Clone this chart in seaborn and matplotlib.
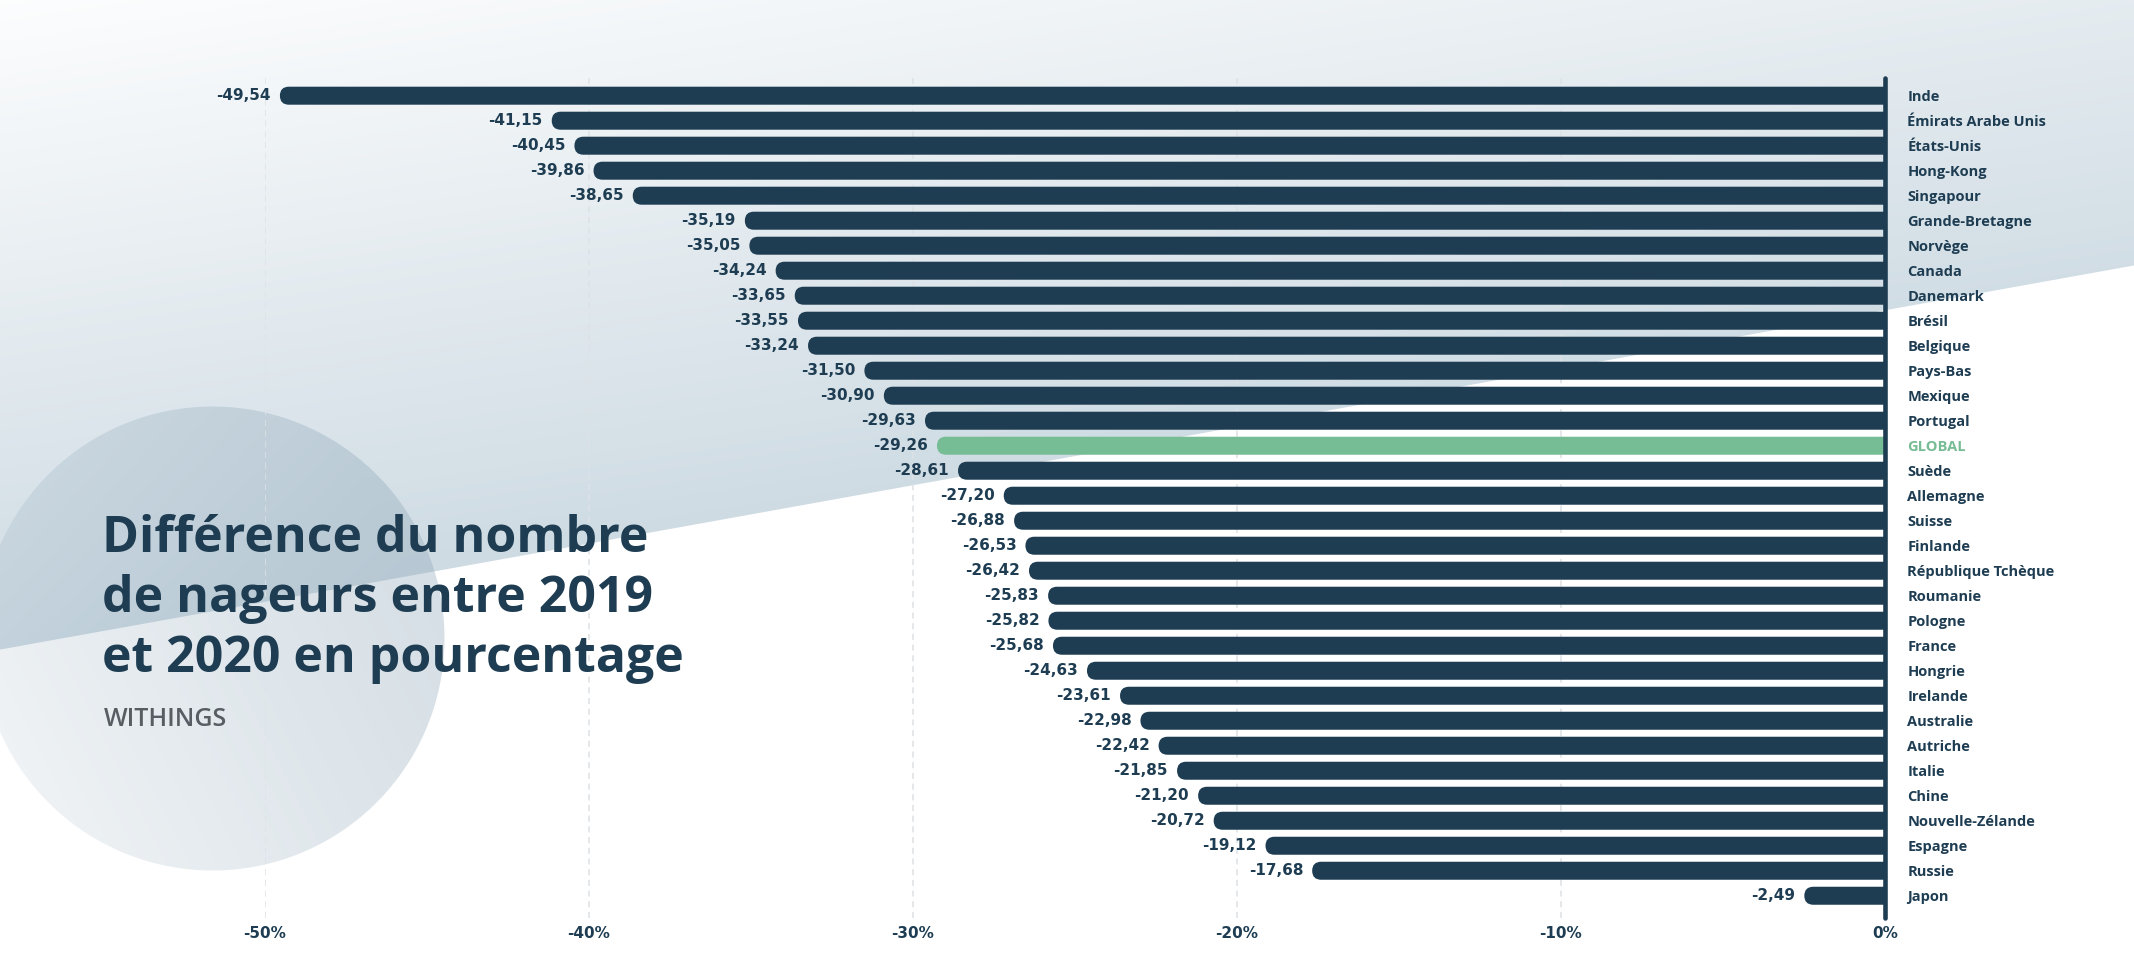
import matplotlib
matplotlib.use('Agg')  # no display
import matplotlib.pyplot as plt
from matplotlib.patches import FancyBboxPatch
import seaborn as sns
import numpy as np
import pandas as pd

# Données (variation du nombre de nageurs 2019 -> 2020, en %)
pays = ["Inde", "Émirats Arabe Unis", "États-Unis", "Hong-Kong", "Singapour",
        "Grande-Bretagne", "Norvège", "Canada", "Danemark", "Brésil", "Belgique",
        "Pays-Bas", "Mexique", "Portugal", "GLOBAL", "Suède", "Allemagne", "Suisse",
        "Finlande", "République Tchèque", "Roumanie", "Pologne", "France", "Hongrie",
        "Irelande", "Australie", "Autriche", "Italie", "Chine", "Nouvelle-Zélande",
        "Espagne", "Russie", "Japon"]
variation = [-49.54, -41.15, -40.45, -39.86, -38.65, -35.19, -35.05, -34.24, -33.65,
             -33.55, -33.24, -31.50, -30.90, -29.63, -29.26, -28.61, -27.20, -26.88,
             -26.53, -26.42, -25.83, -25.82, -25.68, -24.63, -23.61, -22.98, -22.42,
             -21.85, -21.20, -20.72, -19.12, -17.68, -2.49]
x_ticks = [-50, -40, -30, -20, -10, 0]
x_tick_labels = ["-50%", "-40%", "-30%", "-20%", "-10%", "0%"]
titre = ["Différence du nombre", "de nageurs entre 2019", "et 2020 en pourcentage"]
source = "WITHINGS"

NAVY = "#1e3d52"
GREEN = "#76bc94"
GREY = "#585d64"
GRID = "#dde2e6"
NUM_FONT = ['DejaVu Sans']

sns.set_theme(style="white")
plt.rcParams['font.family'] = ['Open Sans', 'DejaVu Sans']

W, H = 2134, 959
fig = plt.figure(figsize=(W / 100, H / 100), dpi=100)

# --- decorative background (gradient band + circle) ---
yy, xx = np.mgrid[0:H, 0:W].astype(float)
img = np.ones((H, W, 3))
c_top = np.array([0.99, 0.993, 0.995])
c_low = np.array([0.79, 0.845, 0.88])
t = np.clip((yy + 0.15 * xx) / 700.0, 0, 1)[..., None]
band = c_top + (c_low - c_top) * t
a_band = np.clip(649 - 0.18 * xx - yy + 0.5, 0, 1)[..., None]
img = img * (1 - a_band) + band * a_band

cx, cy, rad = 212, 638, 232
dist = np.sqrt((xx - cx) ** 2 + (yy - cy) ** 2)
a_circ = np.clip(rad - dist + 0.5, 0, 1)
d = np.array([1.0, -0.5])
d /= np.linalg.norm(d)
s = (xx + 40) * d[0] + (yy - 870) * d[1]
s1 = 485 * d[0] + (640 - 870) * d[1]
tc = np.clip(s / s1, 0, 1) ** 0.8
alpha = ((0.07 + 0.28 * tc) * a_circ)[..., None]
dark = np.array([0.55, 0.65, 0.72])
img = img * (1 - alpha) + dark * alpha

bg = fig.add_axes([0, 0, 1, 1])
bg.imshow(img, extent=(0, W, H, 0), aspect='auto', interpolation='bilinear')
bg.set_xlim(0, W)
bg.set_ylim(H, 0)
bg.axis('off')
bg.set_zorder(0)

# --- bar chart ---
ax = fig.add_axes([265 / W, 1 - 918 / H, (1885 - 265) / W, (918 - 78) / H])
ax.set_zorder(1)
ax.patch.set_alpha(0)

df = pd.DataFrame({"pays": pays, "variation": variation})
df["groupe"] = np.where(df["pays"] == "GLOBAL", "global", "pays")
sns.barplot(data=df, x="variation", y="pays", hue="groupe",
            palette={"pays": NAVY, "global": GREEN}, dodge=False, legend=False,
            width=0.72, saturation=1, ax=ax)

ax.set_xlim(-50, 0)
ax.set_ylim(len(pays) - 1 + 0.89, -0.708)

# rounded left ends: replace rectangles by rounded boxes (right end clipped at 0)
p0 = ax.transData.transform((0, 0))
sx = abs(ax.transData.transform((1, 0))[0] - p0[0])
sy = abs(ax.transData.transform((0, 1))[1] - p0[1])
for bar in list(ax.patches):
    x0, w = bar.get_x(), bar.get_width()
    y0, h = bar.get_y(), bar.get_height()
    left = min(x0, x0 + w)
    r_x = (h / 2) * sy / sx
    right = max(x0, x0 + w) + 2 * r_x
    rounded = FancyBboxPatch((left, y0), right - left, h,
                             boxstyle=f"round,pad=0,rounding_size={r_x}",
                             mutation_aspect=sx / sy,
                             facecolor=bar.get_facecolor(), edgecolor='none', zorder=2)
    bar.remove()
    ax.add_patch(rounded)

# value labels
for i, v in enumerate(variation):
    ax.annotate(f"{v:.2f}".replace(".", ","), xy=(v, i), xytext=(-6.5, 0),
                textcoords="offset points", ha="right", va="center",
                fontsize=11, fontweight="bold", color=NAVY, family=NUM_FONT)

# axes styling
for side in ["left", "top", "bottom"]:
    ax.spines[side].set_visible(False)
ax.spines["right"].set_color(NAVY)
ax.spines["right"].set_linewidth(3.3)
ax.spines["right"].set_capstyle("round")
ax.spines["right"].set_zorder(3)

ax.set_axisbelow(True)
ax.xaxis.grid(True, color=GRID, linestyle=(0, (4, 3)), linewidth=1.1)
ax.yaxis.grid(False)

ax.set_xticks(x_ticks, x_tick_labels)
ax.tick_params(axis="x", length=0, pad=6, labelsize=11, labelcolor=NAVY)
for lbl in ax.get_xticklabels():
    lbl.set_fontweight("bold")
    lbl.set_family(NUM_FONT)

ax.yaxis.tick_right()
ax.tick_params(axis="y", length=0, pad=16, labelsize=10.5, labelcolor=NAVY)
for lbl in ax.get_yticklabels():
    lbl.set_fontweight("bold")
    if lbl.get_text() == "GLOBAL":
        lbl.set_color(GREEN)
ax.set_xlabel("")
ax.set_ylabel("")

# title block
for k, line in enumerate(titre):
    fig.text(102 / W, 1 - (552 + 60 * k) / H, line, ha="left", va="baseline",
             fontsize=36, fontweight="bold", color=NAVY)
fig.text(104 / W, 1 - 726 / H, source, ha="left", va="baseline",
         fontsize=18, fontweight="semibold", color=GREY)

fig.savefig("out.png", dpi=100)
